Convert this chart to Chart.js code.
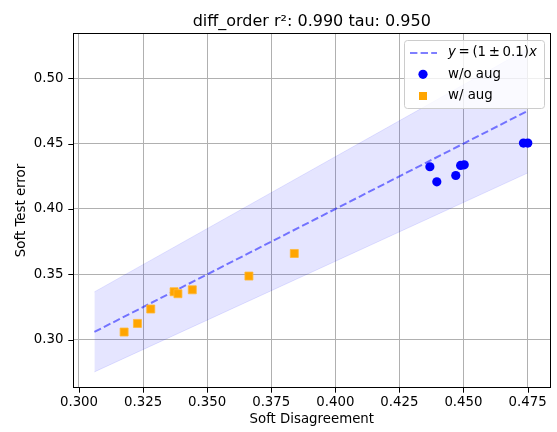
<!DOCTYPE html>
<html><head><meta charset="utf-8">
<script src="https://cdn.jsdelivr.net/npm/chart.js@4"></script>
<style>html,body{margin:0;padding:0;background:#fff}</style>
</head><body>
<canvas id="c" width="557" height="432"></canvas>
<script>
const titleText = "diff_order r\u00B2: 0.990 tau: 0.950";
const xLabel = "Soft Disagreement";
const yLabel = "Soft Test error";
const xTicks = [0.300, 0.325, 0.350, 0.375, 0.400, 0.425, 0.450, 0.475];
const yTicks = [0.30, 0.35, 0.40, 0.45, 0.50];
const woAugX = [0.4369, 0.4396, 0.4470, 0.4489, 0.4503, 0.4734, 0.4751];
const woAugY = [0.4323, 0.4208, 0.4256, 0.4333, 0.4338, 0.4504, 0.4504];
const wAugX = [0.3176, 0.3228, 0.3280, 0.3371, 0.3386, 0.3442, 0.3663, 0.3840];
const wAugY = [0.3059, 0.3125, 0.3235, 0.3367, 0.3352, 0.3382, 0.3487, 0.3660];
const fitRange = [0.306, 0.475];
const fitSlope = 1.0;
const fitTol = 0.1;
const xRange = [0.29766, 0.48397];
const yRange = [0.2631, 0.5346];

const FONT = "'DejaVu Sans', sans-serif";
const FS = 13.33;
const pts = (xs, ys) => xs.map((x, i) => ({x, y: ys[i]}));
const fitPts = f => fitRange.map(x => ({x, y: x * f}));

const overlay = {
  id: 'overlay',
  afterDraw(chart) {
    const ctx = chart.ctx, a = chart.chartArea;
    ctx.save();
    // frame
    ctx.strokeStyle = '#000'; ctx.lineWidth = 1;
    ctx.strokeRect(Math.round(a.left) + 0.5, Math.round(a.top) + 0.5, Math.round(a.right - a.left) - 1, Math.round(a.bottom - a.top) - 1);
    // tick marks
    const xs = chart.scales.x, ys = chart.scales.y;
    ctx.beginPath();
    xTicks.forEach(v => { const p = Math.round(xs.getPixelForValue(v)) + 0.5; ctx.moveTo(p, a.bottom); ctx.lineTo(p, a.bottom + 4.7); });
    yTicks.forEach(v => { const p = Math.round(ys.getPixelForValue(v)) + 0.5; ctx.moveTo(a.left, p); ctx.lineTo(a.left - 4.7, p); });
    ctx.stroke();
    // title
    ctx.fillStyle = '#000';
    ctx.font = "16px " + FONT;
    ctx.textAlign = 'center'; ctx.textBaseline = 'alphabetic';
    ctx.fillText(titleText, (a.left + a.right) / 2, 25.5);
    // legend
    const lx = 404, ly = 40, lw = 140, lh = 68, r = 3;
    ctx.beginPath();
    ctx.roundRect(lx + 0.5, ly + 0.5, lw, lh, r);
    ctx.fillStyle = 'rgba(255,255,255,0.8)'; ctx.fill();
    ctx.strokeStyle = '#cccccc'; ctx.lineWidth = 1; ctx.stroke();
    // line sample
    ctx.beginPath();
    ctx.setLineDash([7.4, 3.2]);
    ctx.strokeStyle = 'rgba(0,0,255,0.5)'; ctx.lineWidth = 2;
    ctx.moveTo(410, 53); ctx.lineTo(437, 53); ctx.stroke();
    ctx.setLineDash([]);
    // circle
    ctx.beginPath(); ctx.arc(423, 74.3, 4.6, 0, Math.PI * 2); ctx.fillStyle = '#0000ff'; ctx.fill();
    // square
    ctx.fillStyle = '#ffa500'; ctx.fillRect(419, 92, 8, 8);
    // texts
    ctx.fillStyle = '#000'; ctx.textAlign = 'left'; ctx.textBaseline = 'middle';
    let tx = 448;
    const seg = (t, style) => { ctx.font = style + FS + "px " + FONT; ctx.fillText(t, tx, 53); tx += ctx.measureText(t).width; };
    seg('y', 'italic '); seg('\u2009=\u2009(1\u2009\u00B1\u20090.1)', ''); seg('x', 'italic ');
    ctx.font = FS + "px " + FONT;
    ctx.fillText('w/o aug', 448, 74.5);
    ctx.fillText('w/ aug', 448, 96);
    ctx.restore();
  }
};

new Chart(document.getElementById('c'), {
  type: 'line',
  data: {
    datasets: [
      { label: 'w/o aug', data: pts(woAugX, woAugY), showLine: false, pointStyle: 'circle', pointRadius: 4.6,
        pointBackgroundColor: '#0000ff', pointBorderColor: '#0000ff', pointBorderWidth: 0, order: 0 },
      { label: 'w/ aug', data: pts(wAugX, wAugY), showLine: false, pointStyle: 'rect', pointRadius: 5.66,
        pointBackgroundColor: '#ffa500', pointBorderColor: '#ffb733', pointBorderWidth: 0.8, order: 0 },
      { label: 'fit', data: fitPts(fitSlope), borderColor: 'rgba(0,0,255,0.5)', borderWidth: 2,
        borderDash: [7.4, 3.2], pointRadius: 0, fill: false, order: 1 },
      { label: 'lo', data: fitPts(fitSlope - fitTol), borderColor: 'rgba(0,0,255,0.1)', borderWidth: 1,
        pointRadius: 0, fill: false, order: 2 },
      { label: 'hi', data: fitPts(fitSlope + fitTol), borderColor: 'rgba(0,0,255,0.1)', borderWidth: 1,
        backgroundColor: 'rgba(0,0,255,0.1)', pointRadius: 0, fill: '-1', order: 2 }
    ]
  },
  options: {
    responsive: false, animation: false, events: [],
    layout: { padding: { top: 33, right: 6, left: 0, bottom: 0 } },
    plugins: { legend: { display: false }, title: { display: false }, tooltip: { enabled: false } },
    scales: {
      x: {
        type: 'linear', min: xRange[0], max: xRange[1],
        afterBuildTicks: s => { s.ticks = xTicks.map(v => ({value: v})); },
        afterFit: s => { s.height = 44; },
        ticks: { callback: v => v.toFixed(3), font: { family: FONT, size: FS }, color: '#000', padding: 7, autoSkip: false, maxRotation: 0 },
        grid: { color: '#b0b0b0', lineWidth: 1, drawTicks: false },
        border: { display: false },
        title: { display: true, text: xLabel, font: { family: FONT, size: FS }, color: '#000', padding: { top: 2, bottom: 4 } }
      },
      y: {
        type: 'linear', min: yRange[0], max: yRange[1],
        afterBuildTicks: s => { s.ticks = yTicks.map(v => ({value: v})); },
        afterFit: s => { s.width = 73; },
        ticks: { callback: v => v.toFixed(2), font: { family: FONT, size: FS }, color: '#000', padding: 9.5, autoSkip: false },
        grid: { color: '#b0b0b0', lineWidth: 1, drawTicks: false },
        border: { display: false },
        title: { display: true, text: yLabel, font: { family: FONT, size: FS }, color: '#000', padding: { top: 13.5, bottom: 4 } }
      }
    }
  },
  plugins: [overlay]
});
</script>
</body></html>
